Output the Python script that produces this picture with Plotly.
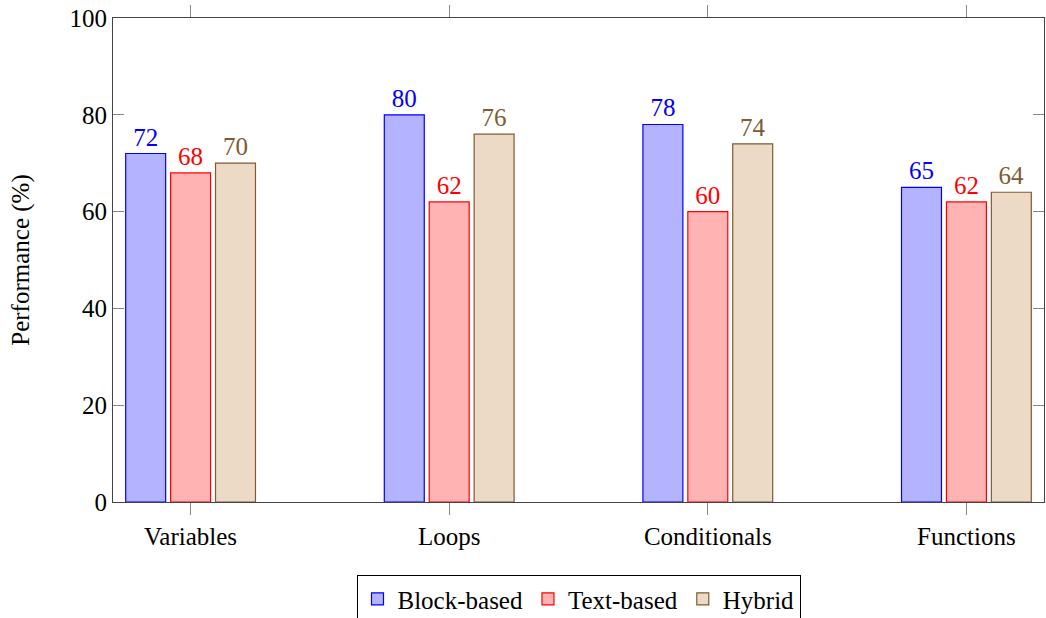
import plotly.graph_objects as go

categories = ["Variables", "Loops", "Conditionals", "Functions"]
block_based = [72, 80, 78, 65]
text_based = [68, 62, 60, 62]
hybrid = [70, 76, 74, 64]
y_ticks = [0, 20, 40, 60, 80, 100]

FONT = "Liberation Serif"
SIZE = 25

series = [
    ("Block-based", block_based, "rgb(179,179,255)", "rgb(0,0,255)", "rgb(0,0,255)"),
    ("Text-based", text_based, "rgb(255,179,179)", "rgb(255,0,0)", "rgb(255,0,0)"),
    ("Hybrid", hybrid, "rgb(236,218,198)", "rgb(128,90,50)", "rgb(128,90,50)"),
]

fig = go.Figure()
for name, vals, fill, line, txt in series:
    fig.add_trace(go.Bar(
        name=name,
        x=categories,
        y=vals,
        text=[str(v) for v in vals],
        textposition="outside",
        textfont=dict(family=FONT, size=SIZE, color=txt),
        cliponaxis=False,
        marker=dict(color=fill, line=dict(color=line, width=1.2)),
    ))

fig.update_layout(
    width=1046,
    height=618,
    margin=dict(l=113, r=2, t=18, b=116, autoexpand=False),
    paper_bgcolor="white",
    plot_bgcolor="white",
    barmode="group",
    bargap=0.479,
    bargroupgap=0.11,
    font=dict(family=FONT, size=SIZE, color="black"),
    showlegend=True,
    legend=dict(
        orientation="h",
        x=0.5, xanchor="center",
        y=-0.151, yanchor="top",
        bordercolor="black", borderwidth=1,
        font=dict(family=FONT, size=SIZE),
        itemwidth=30,
        tracegroupgap=0,
    ),
    uniformtext=dict(mode=False),
)

fig.update_xaxes(
    range=[-0.3, 3.3],
    showline=True, linecolor="#444", linewidth=1.2, mirror="ticks",
    ticks="outside", ticklen=12, tickcolor="#888", tickwidth=1,
    showgrid=False,
    tickfont=dict(family=FONT, size=SIZE),
)
fig.update_yaxes(
    range=[0, 100],
    tickvals=y_ticks,
    showline=True, linecolor="#444", linewidth=1.2, mirror="ticks",
    ticks="inside", ticklen=11, tickcolor="#888", tickwidth=1,
    showgrid=False, zeroline=False,
    tickfont=dict(family=FONT, size=SIZE),
    title=dict(text="Performance (%)", font=dict(family=FONT, size=SIZE), standoff=32),
)

fig.write_html("out.html")
